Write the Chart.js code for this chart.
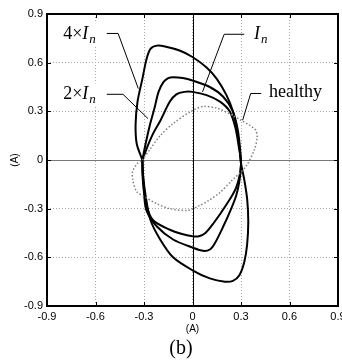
<!DOCTYPE html>
<html>
<head>
<meta charset="utf-8">
<script src="https://cdn.jsdelivr.net/npm/chart.js@4.4.1/dist/chart.umd.min.js"></script>
<style>
  body { margin: 0; background: #fff; }
  canvas { display: block; }
</style>
</head>
<body>
<canvas id="park-b" width="342" height="361"></canvas>
<script>
Chart.defaults.font.family = '"Liberation Sans", Arial, sans-serif';
Chart.defaults.color = '#000';

// Park's vector loops, [x (A), y (A)]
const healthy = [
	[-0.31, 0.0], [-0.26, 0.07], [-0.20, 0.15], [-0.12, 0.225], [0.0, 0.305], [0.066, 0.33],
	[0.15, 0.32], [0.23, 0.285], [0.30, 0.245], [0.36, 0.21], [0.39, 0.185], [0.40, 0.145],
	[0.385, 0.07], [0.33, -0.04], [0.24, -0.13], [0.17, -0.20], [0.10, -0.25], [0.045, -0.28],
	[-0.027, -0.31], [-0.14, -0.30], [-0.22, -0.27], [-0.30, -0.225], [-0.345, -0.195],
	[-0.37, -0.12], [-0.37, -0.07], [-0.34, -0.02]
];
const loopIn = [
	[-0.31, 0.0], [-0.28, 0.08], [-0.24, 0.17], [-0.20, 0.24], [-0.14, 0.36], [-0.10, 0.405],
	[-0.05, 0.42], [0.0, 0.42], [0.087, 0.40], [0.17, 0.36], [0.23, 0.30], [0.265, 0.20],
	[0.285, 0.09], [0.30, -0.03], [0.27, -0.17], [0.20, -0.29], [0.13, -0.39], [0.08, -0.45],
	[0.04, -0.47], [0.0, -0.47], [-0.07, -0.455], [-0.14, -0.43], [-0.245, -0.37],
	[-0.29, -0.26], [-0.305, -0.12]
];
const loop2In = [
	[-0.31, 0.0], [-0.29, 0.10], [-0.265, 0.21], [-0.235, 0.32], [-0.21, 0.42], [-0.18, 0.48],
	[-0.15, 0.505], [-0.12, 0.51], [-0.06, 0.505], [0.0, 0.49], [0.107, 0.45], [0.19, 0.39],
	[0.25, 0.30], [0.28, 0.185], [0.295, 0.06], [0.30, -0.03], [0.29, -0.13], [0.27, -0.22],
	[0.235, -0.31], [0.19, -0.41], [0.14, -0.51], [0.11, -0.55], [0.066, -0.56], [0.0, -0.54],
	[-0.12, -0.49], [-0.22, -0.41], [-0.285, -0.31], [-0.30, -0.20], [-0.31, -0.08]
];
const loop4In = [
	[-0.31, 0.0], [-0.345, 0.10], [-0.352, 0.22], [-0.34, 0.36], [-0.31, 0.50], [-0.285, 0.62],
	[-0.26, 0.685], [-0.22, 0.705], [-0.17, 0.70], [-0.08, 0.675], [0.0, 0.635], [0.087, 0.57],
	[0.15, 0.50], [0.21, 0.40], [0.25, 0.30], [0.275, 0.19], [0.29, 0.08], [0.30, -0.02],
	[0.32, -0.12], [0.338, -0.24], [0.345, -0.38], [0.338, -0.52], [0.32, -0.63], [0.29, -0.71],
	[0.25, -0.745], [0.20, -0.75], [0.107, -0.73], [0.0, -0.68], [-0.12, -0.60], [-0.20, -0.49],
	[-0.26, -0.37], [-0.29, -0.22], [-0.305, -0.10]
];

// callout leader lines, data units
const lead4In = [[-0.53, 0.78], [-0.46, 0.78], [-0.335, 0.44]];
const lead2In = [[-0.53, 0.405], [-0.43, 0.405], [-0.275, 0.255]];
const leadIn = [[0.32, 0.775], [0.196, 0.775], [0.062, 0.42]];
const leadHealthy = [[0.425, 0.41], [0.36, 0.41], [0.31, 0.245]];

// callout texts: [text, italic, subscript]
const text4In = [['4×', false, false], ['I', true, false], ['n', true, true]];
const text2In = [['2×', false, false], ['I', true, false], ['n', true, true]];
const textIn = [['I', true, false], ['n', true, true]];
const textHealthy = [['healthy', false, false]];

const tickValues = [-0.9, -0.6, -0.3, 0, 0.3, 0.6, 0.9];
const axisTitle = '(A)';
const panelTag = '(b)';

// where each callout text starts (left, baseline) in data units
const callouts = [
	{ parts: text4In, at: [-0.80, 0.745] },
	{ parts: text2In, at: [-0.80, 0.374] },
	{ parts: textIn, at: [0.38, 0.745] },
	{ parts: textHealthy, at: [0.473, 0.39] }
];

function toPoints(arr, close) {
	const pts = arr.map(p => ({ x: p[0], y: p[1] }));
	if (close) pts.push({ x: arr[0][0], y: arr[0][1] });
	return pts;
}

function partFont(part) {
	const size = part[2] ? 13 : 18;
	return (part[1] ? 'italic ' : '') + size + 'px "Liberation Serif", "Times New Roman", serif';
}

function drawParts(ctx, parts, x, y, measureOnly) {
	let cx = x;
	parts.forEach(part => {
		ctx.font = partFont(part);
		if (!measureOnly) ctx.fillText(part[0], cx, y + (part[2] ? 4 : 0));
		cx += ctx.measureText(part[0]).width + (part[1] && !part[2] ? 1 : 0);
	});
	return cx - x;
}

function fmtTick(v) {
	if (Math.abs(v) < 1e-9) return '0';
	return (+v.toFixed(1)).toString();
}

const decor = {
	id: 'decor',
	beforeDatasetsDraw(chart) {
		const { ctx, chartArea: a, scales: { x, y } } = chart;
		ctx.save();
		// white boxes behind callouts
		ctx.fillStyle = '#fff';
		callouts.forEach(c => {
			const px = x.getPixelForValue(c.at[0]);
			const py = y.getPixelForValue(c.at[1]);
			const w = drawParts(ctx, c.parts, px, py, true);
			ctx.fillRect(px - 4, py - 16, w + 8, 22);
		});
		// zero axes
		ctx.lineWidth = 1;
		const x0 = Math.round(x.getPixelForValue(0)) + 0.5;
		const y0 = Math.round(y.getPixelForValue(0)) + 0.5;
		ctx.strokeStyle = '#777';
		ctx.beginPath();
		ctx.moveTo(a.left, y0);
		ctx.lineTo(a.right, y0);
		ctx.stroke();
		ctx.strokeStyle = '#000';
		ctx.beginPath();
		ctx.moveTo(x0, a.top);
		ctx.lineTo(x0, a.bottom);
		ctx.stroke();
		ctx.restore();
	},
	afterDatasetsDraw(chart) {
		const { ctx, chartArea: a, scales: { x, y } } = chart;
		ctx.save();
		// frame
		ctx.strokeStyle = '#000';
		ctx.lineWidth = 2;
		ctx.strokeRect(a.left, a.top, a.right - a.left, a.bottom - a.top);
		// inward tick marks on all four sides
		ctx.lineWidth = 1;
		ctx.beginPath();
		x.ticks.forEach(t => {
			const px = Math.round(x.getPixelForValue(t.value)) + 0.5;
			ctx.moveTo(px, a.bottom); ctx.lineTo(px, a.bottom - 4);
			ctx.moveTo(px, a.top); ctx.lineTo(px, a.top + 4);
		});
		y.ticks.forEach(t => {
			const py = Math.round(y.getPixelForValue(t.value)) + 0.5;
			ctx.moveTo(a.left, py); ctx.lineTo(a.left + 4, py);
			ctx.moveTo(a.right, py); ctx.lineTo(a.right - 4, py);
		});
		ctx.stroke();
		// callout texts
		ctx.fillStyle = '#000';
		ctx.textBaseline = 'alphabetic';
		ctx.textAlign = 'left';
		callouts.forEach(c => {
			drawParts(ctx, c.parts, x.getPixelForValue(c.at[0]), y.getPixelForValue(c.at[1]), false);
		});
		// panel tag under the axis title
		ctx.font = '20px "Liberation Serif", "Times New Roman", serif';
		ctx.textAlign = 'center';
		ctx.fillText(panelTag, 181, 354);
		ctx.restore();
	}
};

const loopStyle = { showLine: true, pointRadius: 0, borderColor: '#000', borderWidth: 2, tension: 0.3 };
const leadStyle = { showLine: true, pointRadius: 0, borderColor: '#000', borderWidth: 1, tension: 0 };

new Chart(
	document.getElementById('park-b'),
	{
		type: 'scatter',
		data: {
			datasets: [
				{
					label: 'healthy',
					data: toPoints(healthy, true),
					showLine: true, pointRadius: 0, tension: 0.3,
					borderColor: '#808080', borderWidth: 1.5, borderDash: [1.5, 2]
				},
				Object.assign({ label: 'In', data: toPoints(loopIn, true) }, loopStyle),
				Object.assign({ label: '2xIn', data: toPoints(loop2In, true) }, loopStyle),
				Object.assign({ label: '4xIn', data: toPoints(loop4In, true) }, loopStyle),
				Object.assign({ label: 'lead 4xIn', data: toPoints(lead4In) }, leadStyle),
				Object.assign({ label: 'lead 2xIn', data: toPoints(lead2In) }, leadStyle),
				Object.assign({ label: 'lead In', data: toPoints(leadIn) }, leadStyle),
				Object.assign({ label: 'lead healthy', data: toPoints(leadHealthy) }, leadStyle)
			]
		},
		options: {
			responsive: false,
			animation: false,
			layout: { padding: { top: 14, right: 4, left: 0, bottom: 0 } },
			plugins: { legend: { display: false }, tooltip: { enabled: false } },
			scales: {
				x: {
					type: 'linear',
					min: -0.9,
					max: 0.9,
					afterBuildTicks: s => { s.ticks = tickValues.map(v => ({ value: v })); },
					afterFit: s => { s.height = 55; s.paddingLeft = 0; s.paddingRight = 0; },
					ticks: { font: { size: 11 }, padding: 4, maxRotation: 0, autoSkip: false, callback: fmtTick },
					grid: { color: '#aaa', drawTicks: false },
					border: { display: false, dash: [1, 2] },
					title: { display: true, text: axisTitle, font: { size: 10 }, padding: { top: 0, bottom: 26 } }
				},
				y: {
					type: 'linear',
					min: -0.9,
					max: 0.9,
					afterBuildTicks: s => { s.ticks = tickValues.map(v => ({ value: v })); },
					afterFit: s => { s.width = 47; s.paddingTop = 0; s.paddingBottom = 0; },
					ticks: { font: { size: 11 }, padding: 4, autoSkip: false, callback: fmtTick },
					grid: { color: '#aaa', drawTicks: false },
					border: { display: false, dash: [1, 2] },
					title: { display: true, text: axisTitle, font: { size: 10 }, padding: { top: 9, bottom: 0 } }
				}
			}
		},
		plugins: [decor]
	}
);
</script>
</body>
</html>
